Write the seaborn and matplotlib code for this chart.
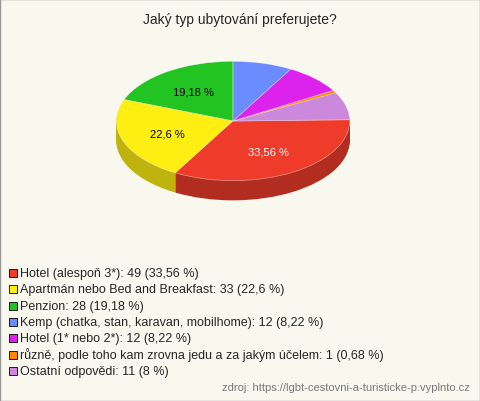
import matplotlib
matplotlib.use("Agg")
import matplotlib.pyplot as plt
import seaborn as sns
import numpy as np
from matplotlib.colors import to_rgb

sns.set_style("white")
plt.rcParams['font.family'] = ['Liberation Sans', 'DejaVu Sans']

categories = ["Hotel (alespoň 3*)", "Apartmán nebo Bed and Breakfast", "Penzion",
              "Kemp (chatka, stan, karavan, mobilhome)", "Hotel (1* nebo 2*)",
              "různě, podle toho kam zrovna jedu a za jakým účelem", "Ostatní odpovědi"]
counts = [49, 33, 28, 12, 12, 1, 11]
legend_pcts = ["33,56 %", "22,6 %", "19,18 %", "8,22 %", "8,22 %", "0,68 %", "8 %"]
colors = ["#ef3b2a", "#ffee11", "#22c422", "#6b8cff", "#dd22ee", "#ff8800", "#cc88dd"]

# drawing order counter-clockwise from top
order = [2, 1, 0, 6, 5, 4, 3]
vals = [counts[i] for i in order]
cols = [colors[i] for i in order]
side = [tuple(np.array(to_rgb(c)) * 0.75) for c in cols]

fig = plt.figure(figsize=(4.8, 4.02), dpi=100)
fig.patch.set_facecolor("#f8f8ef")
fig.add_artist(plt.Rectangle((0, 0), 1, 1, transform=fig.transFigure, fill=False,
                             edgecolor="#999999", lw=1))

ax = fig.add_axes([(233 - 140) / 480, (402 - 230) / 402, 280 / 480, 185 / 402])
ax.set_facecolor("none")
depth = 0.33
for d in np.linspace(depth, 0.01, 25):
    ax.pie(vals, colors=side, startangle=90, counterclock=True, center=(0, -d),
           wedgeprops=dict(linewidth=0))

def fmt(p):
    return (f"{round(p, 2):g}".replace('.', ',') + " %") if p > 15 else ""

wedges, texts, autot = ax.pie(vals, colors=cols, startangle=90, counterclock=True,
                              autopct=fmt, pctdistance=0.6,
                              wedgeprops=dict(linewidth=0.5, edgecolor="#ffffff80"))
for t, c in zip(autot, cols):
    t.set_fontsize(8)
    t.set_color("white" if c == "#ef3b2a" else "black")
ax.set_aspect("auto")
ax.set_xlim(-1.2, 1.2)
ax.set_ylim(-1.81, 1.29)
ax.axis("off")

fig.text(0.5, 1 - 20 / 402, "Jaký typ ubytování preferujete?", ha="center", va="center", fontsize=10)

for i, (cat, n, p, c) in enumerate(zip(categories, counts, legend_pcts, colors)):
    y = 1 - (274 + i * 16.3) / 402
    fig.add_artist(plt.Rectangle((9 / 480, y - 4 / 402), 8 / 480, 8 / 402,
                                 transform=fig.transFigure, facecolor=c, edgecolor="black", lw=0.6))
    fig.text(20 / 480, y, f"{cat}: {n} ({p})", va="center", fontsize=9)

fig.text(1 - 10 / 480, 1 - 388 / 402, "zdroj: https://lgbt-cestovni-a-turisticke-p.vyplnto.cz",
         ha="right", va="center", fontsize=8, color="#777777")

fig.savefig("out.png", dpi=100, facecolor=fig.get_facecolor())
